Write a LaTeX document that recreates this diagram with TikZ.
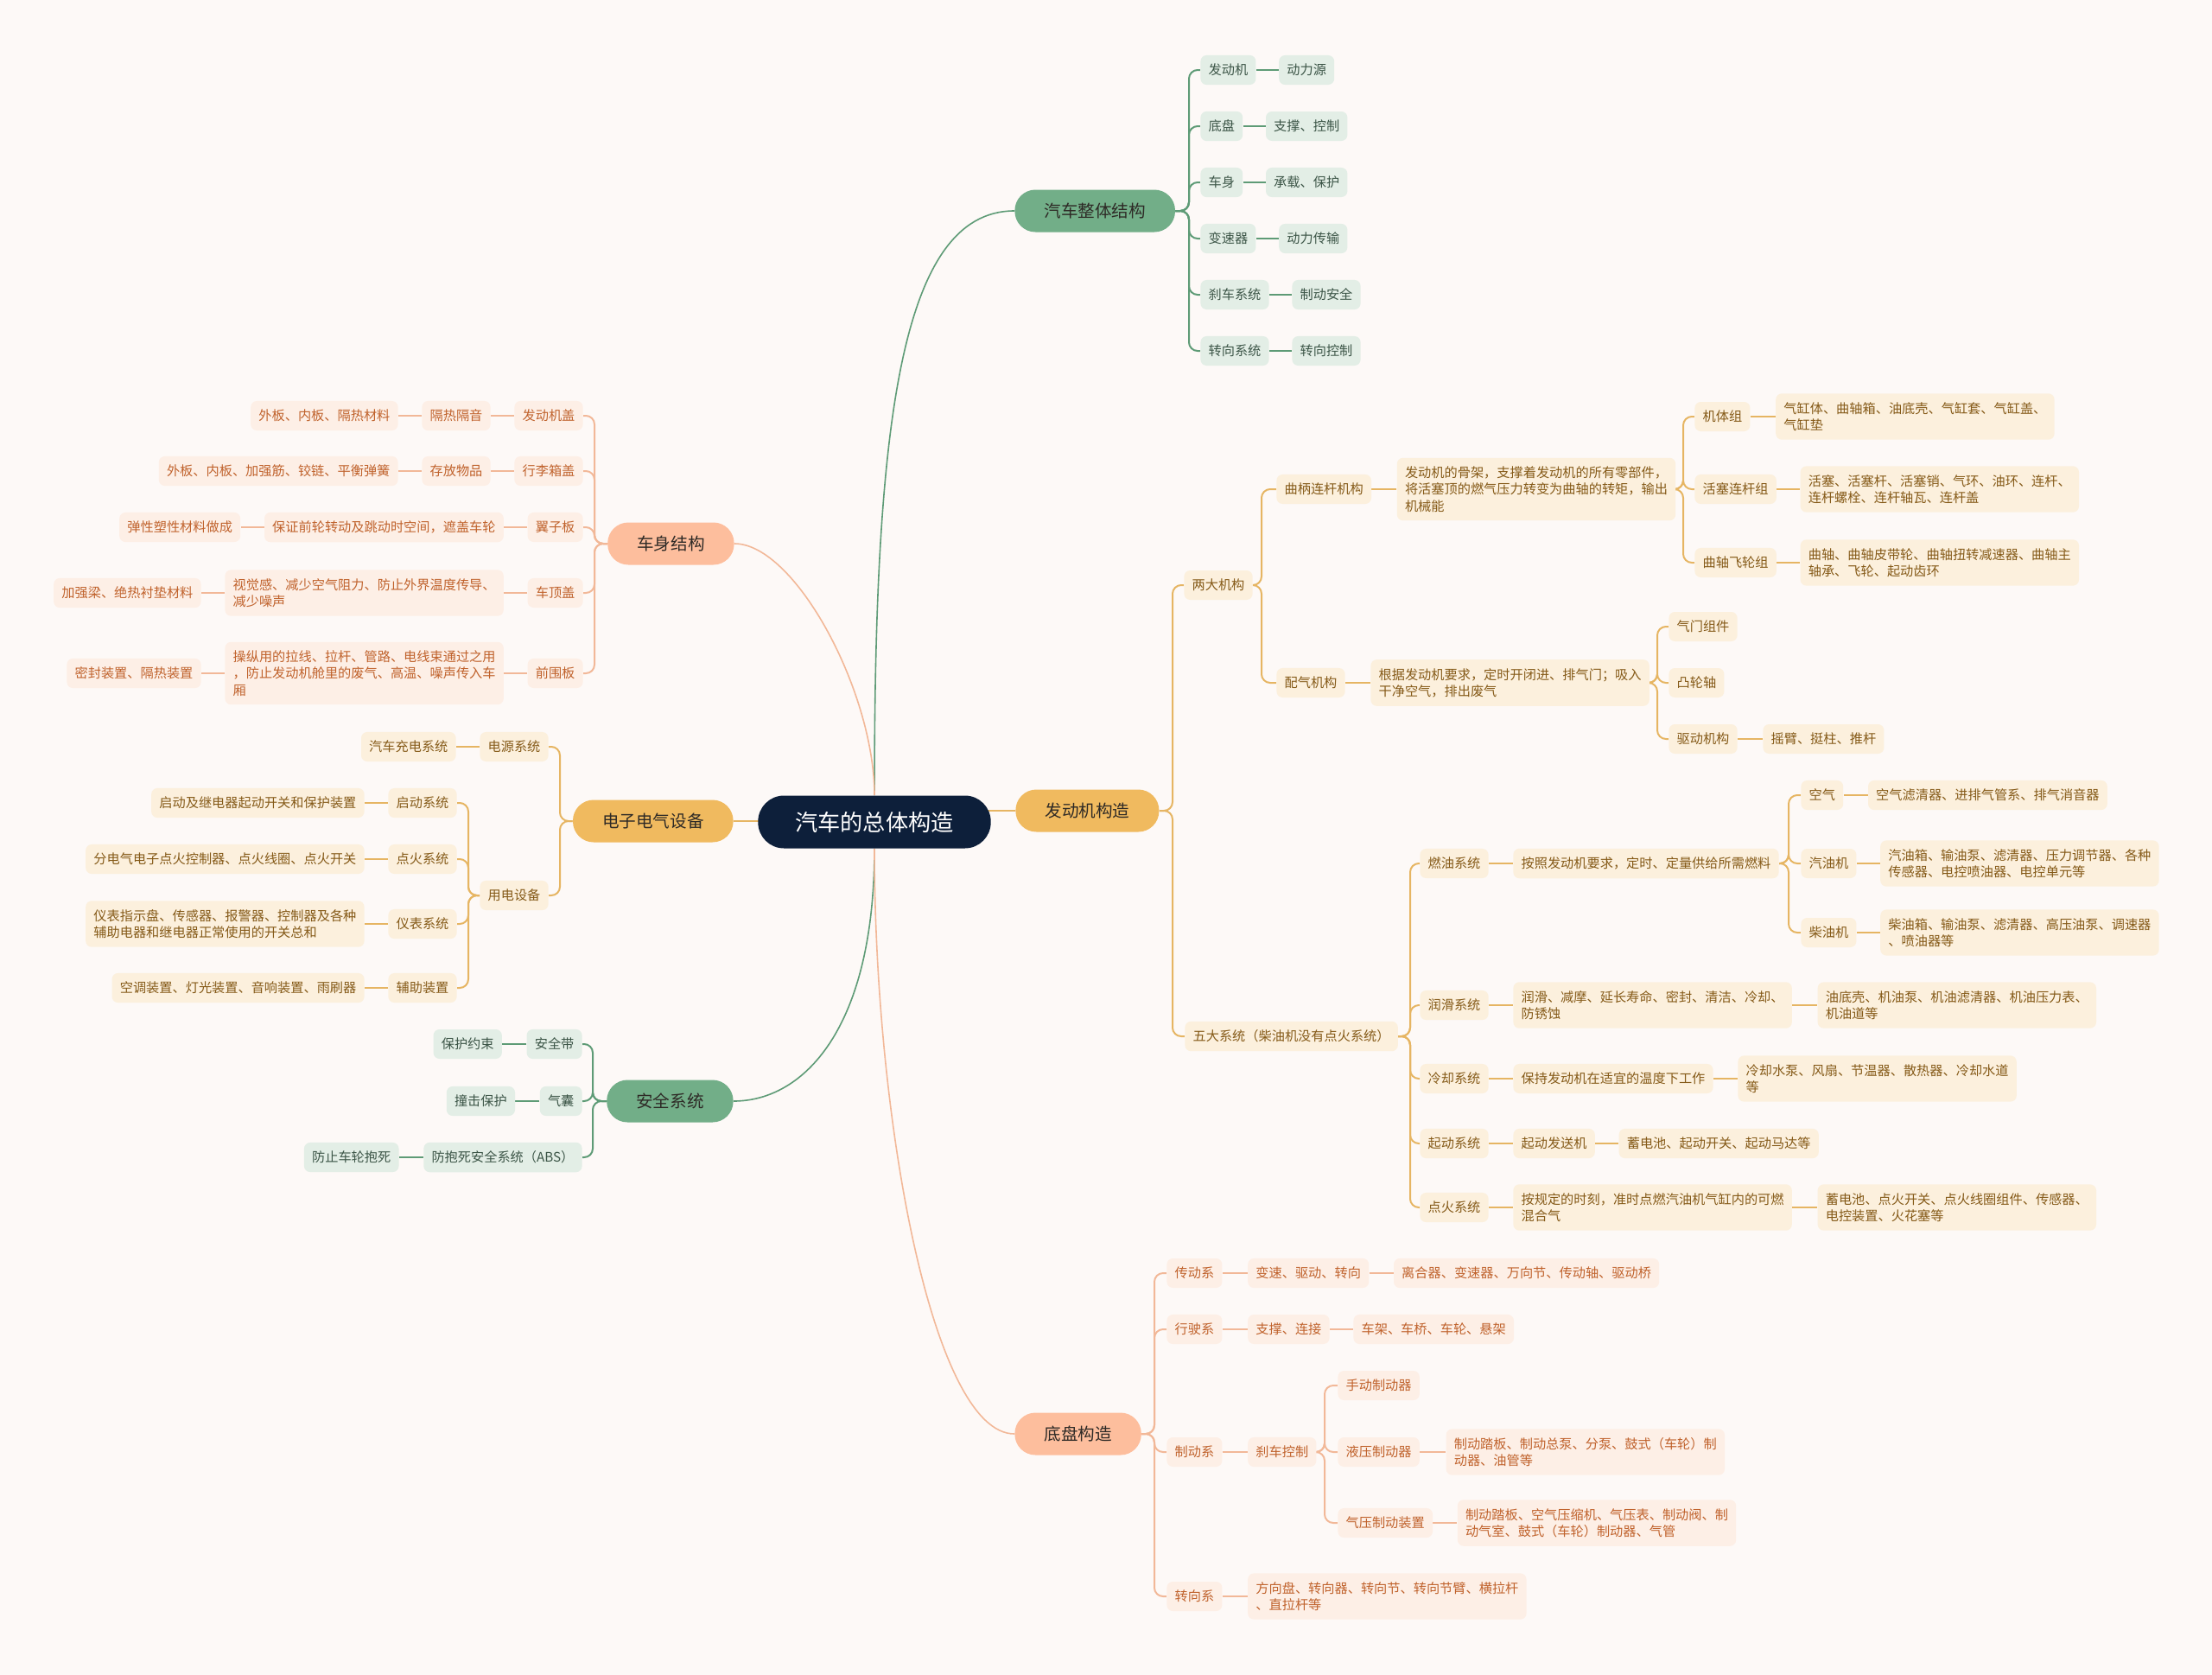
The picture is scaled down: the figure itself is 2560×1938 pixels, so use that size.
\documentclass[tikz,border=0pt]{standalone}
\usepackage{fontspec}
\setmainfont{Noto Sans CJK SC}
\usetikzlibrary{positioning}
\definecolor{bgc}{HTML}{FDF9F7}
\definecolor{rootc}{HTML}{0D1F3A}
\definecolor{gA}{HTML}{72AE88}
\definecolor{gB}{HTML}{E3EEE6}
\definecolor{gT}{HTML}{3C5547}
\definecolor{gL}{HTML}{5E9B76}
\definecolor{pA}{HTML}{FDBE9D}
\definecolor{pB}{HTML}{FDEFE6}
\definecolor{pT}{HTML}{C0622C}
\definecolor{pL}{HTML}{F2B898}
\definecolor{yA}{HTML}{F0BA5F}
\definecolor{yB}{HTML}{FCF0DD}
\definecolor{yT}{HTML}{855A18}
\definecolor{yL}{HTML}{E6B563}
\definecolor{dk}{HTML}{2E2A26}
\pgfdeclarelayer{bg}
\pgfsetlayers{bg,main}
\begin{document}
\begin{tikzpicture}[x=0.5pt,y=-0.5pt,
  base/.style={rectangle, align=left},
  rootn/.style={base, fill=rootc, text=white, rounded corners=15pt, minimum height=30.5pt, inner xsep=21.5pt, inner ysep=0pt, font=\fontsize{13.1}{15}\selectfont},
  lone/.style={base, rounded corners=12pt, minimum height=24.5pt, inner xsep=17pt, inner ysep=0pt, text=dk, font=\fontsize{9.8}{12}\selectfont},
  gone/.style={lone, fill=gA},
  pone/.style={lone, fill=pA},
  yone/.style={lone, fill=yA},
  sm/.style={base, rounded corners=3.5pt, minimum height=17pt, inner xsep=4.6pt, inner ysep=5pt, font=\fontsize{7.6}{9.6}\selectfont},
  gs/.style={sm, fill=gB, text=gT},
  ps/.style={sm, fill=pB, text=pT},
  ys/.style={sm, fill=yB, text=yT},
  gl/.style={draw=gL, line width=1pt, rounded corners=5pt},
  pl/.style={draw=pL, line width=1pt, rounded corners=5pt},
  yl/.style={draw=yL, line width=1pt, rounded corners=5pt},
  curve/.style={line width=0.8pt}
]
\useasboundingbox (0,0) rectangle (2560,1938);

% root
\node[rootn] (root) at (1012,951) {汽车的总体构造};

% ---------- 汽车整体结构 ----------
\node[gone, anchor=west] (A) at (1174,244) {汽车整体结构};
\coordinate (sA) at (1376,244);
\node[gs, anchor=west] (a1) at (1389,81) {发动机};
\node[gs, right=13pt of a1] (a1x) {动力源};
\node[gs, anchor=west] (a2) at (1389,146) {底盘};
\node[gs, right=13pt of a2] (a2x) {支撑、控制};
\node[gs, anchor=west] (a3) at (1389,211) {车身};
\node[gs, right=13pt of a3] (a3x) {承载、保护};
\node[gs, anchor=west] (a4) at (1389,276) {变速器};
\node[gs, right=13pt of a4] (a4x) {动力传输};
\node[gs, anchor=west] (a5) at (1389,341) {刹车系统};
\node[gs, right=13pt of a5] (a5x) {制动安全};
\node[gs, anchor=west] (a6) at (1389,406) {转向系统};
\node[gs, right=13pt of a6] (a6x) {转向控制};

% ---------- 车身结构 ----------
\node[pone, anchor=east] (B) at (850,629) {车身结构};
\coordinate (sB) at (688,629);
\node[ps, anchor=east] (b1) at (675,481) {发动机盖};
\node[ps, left=13.5pt of b1] (b1x) {隔热隔音};
\node[ps, left=13.5pt of b1x] (b1y) {外板、内板、隔热材料};
\node[ps, anchor=east] (b2) at (675,545) {行李箱盖};
\node[ps, left=13.5pt of b2] (b2x) {存放物品};
\node[ps, left=13.5pt of b2x] (b2y) {外板、内板、加强筋、铰链、平衡弹簧};
\node[ps, anchor=east] (b3) at (675,610) {翼子板};
\node[ps, left=13.5pt of b3] (b3x) {保证前轮转动及跳动时空间，遮盖车轮};
\node[ps, left=13.5pt of b3x] (b3y) {弹性塑性材料做成};
\node[ps, anchor=east] (b4) at (675,686) {车顶盖};
\node[ps, left=13.5pt of b4] (b4x) {视觉感、减少空气阻力、防止外界温度传导、\\减少噪声};
\node[ps, left=13.5pt of b4x] (b4y) {加强梁、绝热衬垫材料};
\node[ps, anchor=east] (b5) at (675,779) {前围板};
\node[ps, left=13.5pt of b5] (b5x) {操纵用的拉线、拉杆、管路、电线束通过之用\\，防止发动机舱里的废气、高温、噪声传入车\\厢};
\node[ps, left=13.5pt of b5x] (b5y) {密封装置、隔热装置};

% ---------- 电子电气设备 ----------
\node[yone, anchor=east] (C) at (849,950) {电子电气设备};
\coordinate (sC) at (648,950);
\node[ys, anchor=east] (c1) at (635,864) {电源系统};
\node[ys, left=13.5pt of c1] (c1x) {汽车充电系统};
\node[ys, anchor=east] (c2) at (635,1036) {用电设备};
\coordinate (sC2) at (542,1036);
\node[ys, anchor=east] (c21) at (529,929) {启动系统};
\node[ys, left=13.5pt of c21] (c21x) {启动及继电器起动开关和保护装置};
\node[ys, anchor=east] (c22) at (529,994) {点火系统};
\node[ys, left=13.5pt of c22] (c22x) {分电气电子点火控制器、点火线圈、点火开关};
\node[ys, anchor=east] (c23) at (529,1069) {仪表系统};
\node[ys, left=13.5pt of c23] (c23x) {仪表指示盘、传感器、报警器、控制器及各种\\辅助电器和继电器正常使用的开关总和};
\node[ys, anchor=east] (c24) at (529,1143) {辅助装置};
\node[ys, left=13.5pt of c24] (c24x) {空调装置、灯光装置、音响装置、雨刷器};

% ---------- 安全系统 ----------
\node[gone, anchor=east] (D) at (849,1274) {安全系统};
\coordinate (sD) at (686,1274);
\node[gs, anchor=east] (d1) at (674,1208) {安全带};
\node[gs, left=14pt of d1] (d1x) {保护约束};
\node[gs, anchor=east] (d2) at (674,1274) {气囊};
\node[gs, left=14pt of d2] (d2x) {撞击保护};
\node[gs, anchor=east] (d3) at (674,1339) {防抱死安全系统（ABS）};
\node[gs, left=14pt of d3] (d3x) {防止车轮抱死};

% ---------- 发动机构造 ----------
\node[yone, anchor=west] (E) at (1175,938) {发动机构造};
\coordinate (sE) at (1357,938);
\node[ys, anchor=west] (e1) at (1370,677) {两大机构};
\coordinate (sE1) at (1460,677);
\node[ys, anchor=west] (e11) at (1477,566) {曲柄连杆机构};
\node[ys, right=14.5pt of e11] (e11x) {发动机的骨架，支撑着发动机的所有零部件，\\将活塞顶的燃气压力转变为曲轴的转矩，输出\\机械能};
\coordinate (sE11) at (1948,566);
\node[ys, anchor=west] (e111) at (1961,482) {机体组};
\node[ys, right=14.5pt of e111] (e111x) {气缸体、曲轴箱、油底壳、气缸套、气缸盖、\\气缸垫};
\node[ys, anchor=west] (e112) at (1961,566) {活塞连杆组};
\node[ys, right=13.5pt of e112] (e112x) {活塞、活塞杆、活塞销、气环、油环、连杆、\\连杆螺栓、连杆轴瓦、连杆盖};
\node[ys, anchor=west] (e113) at (1961,651) {曲轴飞轮组};
\node[ys, right=13.5pt of e113] (e113x) {曲轴、曲轴皮带轮、曲轴扭转减速器、曲轴主\\轴承、飞轮、起动齿环};
\node[ys, anchor=west] (e12) at (1477,790) {配气机构};
\node[ys, right=14.5pt of e12] (e12x) {根据发动机要求，定时开闭进、排气门；吸入\\干净空气，排出废气};
\coordinate (sE12) at (1918,790);
\node[ys, anchor=west] (e121) at (1931,725) {气门组件};
\node[ys, anchor=west] (e122) at (1931,790) {凸轮轴};
\node[ys, anchor=west] (e123) at (1931,855) {驱动机构};
\node[ys, right=14.5pt of e123] (e123x) {摇臂、挺柱、推杆};
\node[ys, anchor=west] (e2) at (1371,1199) {五大系统（柴油机没有点火系统）};
\coordinate (sE2) at (1632,1199);
\node[ys, anchor=west] (e21) at (1643,999) {燃油系统};
\node[ys, right=14pt of e21] (e21x) {按照发动机要求，定时、定量供给所需燃料};
\coordinate (sE21) at (2070,999);
\node[ys, anchor=west] (e211) at (2084,920) {空气};
\node[ys, right=14pt of e211] (e211x) {空气滤清器、进排气管系、排气消音器};
\node[ys, anchor=west] (e212) at (2084,999) {汽油机};
\node[ys, right=13.5pt of e212] (e212x) {汽油箱、输油泵、滤清器、压力调节器、各种\\传感器、电控喷油器、电控单元等};
\node[ys, anchor=west] (e213) at (2084,1079) {柴油机};
\node[ys, right=13.5pt of e213] (e213x) {柴油箱、输油泵、滤清器、高压油泵、调速器\\、喷油器等};
\node[ys, anchor=west] (e22) at (1643,1163) {润滑系统};
\node[ys, right=14pt of e22] (e22x) {润滑、减摩、延长寿命、密封、清洁、冷却、\\防锈蚀};
\node[ys, right=14.5pt of e22x] (e22y) {油底壳、机油泵、机油滤清器、机油压力表、\\机油道等};
\node[ys, anchor=west] (e23) at (1643,1248) {冷却系统};
\node[ys, right=14pt of e23] (e23x) {保持发动机在适宜的温度下工作};
\node[ys, right=14pt of e23x] (e23y) {冷却水泵、风扇、节温器、散热器、冷却水道\\等};
\node[ys, anchor=west] (e24) at (1643,1323) {起动系统};
\node[ys, right=14pt of e24] (e24x) {起动发送机};
\node[ys, right=13.5pt of e24x] (e24y) {蓄电池、起动开关、起动马达等};
\node[ys, anchor=west] (e25) at (1643,1397) {点火系统};
\node[ys, right=14pt of e25] (e25x) {按规定的时刻，准时点燃汽油机气缸内的可燃\\混合气};
\node[ys, right=14.5pt of e25x] (e25y) {蓄电池、点火开关、点火线圈组件、传感器、\\电控装置、火花塞等};

% ---------- 底盘构造 ----------
\node[pone, anchor=west] (F) at (1174,1659) {底盘构造};
\coordinate (sF) at (1336,1659);
\node[ps, anchor=west] (f1) at (1350,1473) {传动系};
\node[ps, right=14.5pt of f1] (f1x) {变速、驱动、转向};
\node[ps, right=14pt of f1x] (f1y) {离合器、变速器、万向节、传动轴、驱动桥};
\node[ps, anchor=west] (f2) at (1350,1538) {行驶系};
\node[ps, right=14.5pt of f2] (f2x) {支撑、连接};
\node[ps, right=13.5pt of f2x] (f2y) {车架、车桥、车轮、悬架};
\node[ps, anchor=west] (f3) at (1350,1680) {制动系};
\node[ps, right=14.5pt of f3] (f3x) {刹车控制};
\coordinate (sF3) at (1533,1680);
\node[ps, anchor=west] (f31) at (1548,1603) {手动制动器};
\node[ps, anchor=west] (f32) at (1548,1680) {液压制动器};
\node[ps, right=15pt of f32] (f32x) {制动踏板、制动总泵、分泵、鼓式（车轮）制\\动器、油管等};
\node[ps, anchor=west] (f33) at (1548,1762) {气压制动装置};
\node[ps, right=14pt of f33] (f33x) {制动踏板、空气压缩机、气压表、制动阀、制\\动气室、鼓式（车轮）制动器、气管};
\node[ps, anchor=west] (f4) at (1350,1847) {转向系};
\node[ps, right=14.5pt of f4] (f4x) {方向盘、转向器、转向节、转向节臂、横拉杆\\、直拉杆等};

% ---------- connectors ----------
\begin{pgfonlayer}{bg}
\fill[bgc] (0,0) rectangle (2560,1938);
% from root
\draw[gl, curve] (root.north) .. controls (1012,500) and (1040,244) .. (A.west);
\draw[pl, curve] (B.east) .. controls (920,629) and (1012,800) .. (root.north);
\draw[yl] (C.east) -- (root.center |- C.east);
\draw[gl, curve] (root.south) .. controls (1012,1190) and (930,1274) .. (D.east);
\draw[yl] (E.west) -- (root.center |- E.west);
\draw[pl, curve] (root.south) .. controls (1012,1300) and (1080,1659) .. (F.west);
% green top
\foreach \c in {a1,a2,a3,a4,a5,a6} \draw[gl] (A.east) -- (sA) |- (\c.west);
\foreach \u/\v in {a1/a1x,a2/a2x,a3/a3x,a4/a4x,a5/a5x,a6/a6x} \draw[gl] (\u.east) -- (\v.west);
% body
\foreach \c in {b1,b2,b3,b4,b5} \draw[pl] (B.west) -- (sB) |- (\c.east);
\foreach \u/\v in {b1/b1x,b1x/b1y,b2/b2x,b2x/b2y,b3/b3x,b3x/b3y,b4/b4x,b4x/b4y,b5/b5x,b5x/b5y} \draw[pl] (\u.west) -- (\v.east);
% electric
\foreach \c in {c1,c2} \draw[yl] (C.west) -- (sC) |- (\c.east);
\foreach \c in {c21,c22,c23,c24} \draw[yl] (c2.west) -- (sC2) |- (\c.east);
\foreach \u/\v in {c1/c1x,c21/c21x,c22/c22x,c23/c23x,c24/c24x} \draw[yl] (\u.west) -- (\v.east);
% safety
\foreach \c in {d1,d2,d3} \draw[gl] (D.west) -- (sD) |- (\c.east);
\foreach \u/\v in {d1/d1x,d2/d2x,d3/d3x} \draw[gl] (\u.west) -- (\v.east);
% engine
\foreach \c in {e1,e2} \draw[yl] (E.east) -- (sE) |- (\c.west);
\foreach \c in {e11,e12} \draw[yl] (e1.east) -- (sE1) |- (\c.west);
\foreach \c in {e111,e112,e113} \draw[yl] (e11x.east) -- (sE11) |- (\c.west);
\foreach \c in {e121,e122,e123} \draw[yl] (e12x.east) -- (sE12) |- (\c.west);
\foreach \c in {e21,e22,e23,e24,e25} \draw[yl] (e2.east) -- (sE2) |- (\c.west);
\foreach \c in {e211,e212,e213} \draw[yl] (e21x.east) -- (sE21) |- (\c.west);
\foreach \u/\v in {e11/e11x,e111/e111x,e112/e112x,e113/e113x,e12/e12x,e123/e123x,e21/e21x,e211/e211x,e212/e212x,e213/e213x,e22/e22x,e22x/e22y,e23/e23x,e23x/e23y,e24/e24x,e24x/e24y,e25/e25x,e25x/e25y} \draw[yl] (\u.east) -- (\v.west);
% chassis
\foreach \c in {f1,f2,f3,f4} \draw[pl] (F.east) -- (sF) |- (\c.west);
\foreach \c in {f31,f32,f33} \draw[pl] (f3x.east) -- (sF3) |- (\c.west);
\foreach \u/\v in {f1/f1x,f1x/f1y,f2/f2x,f2x/f2y,f3/f3x,f32/f32x,f33/f33x,f4/f4x} \draw[pl] (\u.east) -- (\v.west);
\end{pgfonlayer}
\end{tikzpicture}
\end{document}
